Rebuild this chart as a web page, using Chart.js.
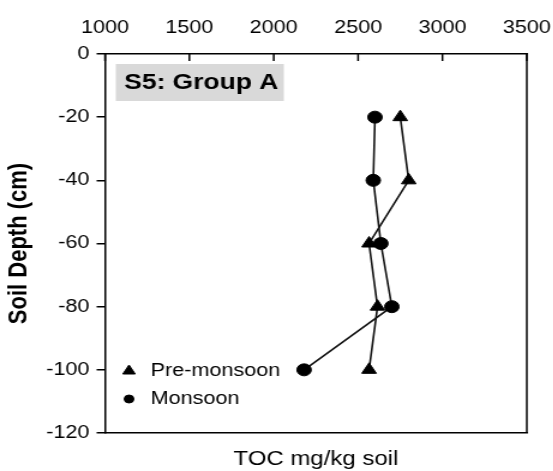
<!DOCTYPE html>
<html>
<head>
<meta charset="utf-8">
<script src="https://cdn.jsdelivr.net/npm/chart.js@4/dist/chart.umd.min.js"></script>
<style>
  html, body { margin: 0; padding: 0; background: #fff; overflow: hidden; }
  /* the reference is horizontally stretched, so draw narrow and stretch */
  #wrap { width: 461px; height: 471px; transform: scaleX(1.2); transform-origin: 0 0; }
</style>
</head>
<body>
<div id="wrap"><canvas id="chart"></canvas></div>
<script>
// Soil depth (cm) for each sample
const depths = [-20, -40, -60, -80, -100];
// TOC mg/kg soil
const preMonsoon = [2750, 2800, 2565, 2615, 2565];
const monsoon = [2600, 2590, 2635, 2700, 2180];
// axis ranges
const xTicks = [1000, 1500, 2000, 2500, 3000, 3500];
const yTicks = [-120, -100, -80, -60, -40, -20, 0];
const titleText = 'S5: Group A';

const toPoints = vals => vals.map((v, i) => ({ x: v, y: depths[i] }));

// frame, inward top ticks, title box and legend
const decorations = {
    id: 'decorations',
    afterDraw(chart) {
        const { ctx, chartArea: a, scales } = chart;
        ctx.save();
        ctx.strokeStyle = '#000';
        ctx.lineWidth = 1.5;
        // right edge of the frame
        ctx.beginPath();
        ctx.moveTo(a.right, a.top);
        ctx.lineTo(a.right, a.bottom);
        ctx.stroke();
        // ticks on the top axis point into the plot
        scales.x.ticks.forEach(t => {
            const px = scales.x.getPixelForValue(t.value);
            ctx.beginPath();
            ctx.moveTo(px, a.top);
            ctx.lineTo(px, a.top + 7);
            ctx.stroke();
        });

        // label box
        ctx.fillStyle = '#d9d9d9';
        ctx.fillRect(a.left + 9, a.top + 10, 140, 37);
        ctx.fillStyle = '#000';
        ctx.font = 'bold 22px "Liberation Sans", Arial, sans-serif';
        ctx.textBaseline = 'middle';
        ctx.textAlign = 'left';
        ctx.fillText(titleText, a.left + 16, a.top + 29);

        // legend inside the plot
        const rows = [a.bottom - 62, a.bottom - 34];
        ctx.font = '18px "Liberation Sans", Arial, sans-serif';
        chart.data.datasets.forEach((ds, i) => {
            const y = rows[i];
            ctx.fillStyle = '#000';
            ctx.strokeStyle = '#000';
            ctx.lineWidth = 1;
            Chart.helpers.drawPoint(ctx, {
                pointStyle: ds.pointStyle,
                radius: ds.pointStyle === 'triangle' ? 6 : 4,
                borderWidth: 1,
                rotation: 0
            }, a.left + 20, y);
            ctx.fillText(ds.label, a.left + 38, y);
        });
        ctx.restore();
    }
};

const black = '#000';
const tickFont = { family: '"Liberation Sans", Arial, sans-serif', size: 18 };
// keep the plot edges fixed, ignoring label overhang
const noOverhang = s => { s.paddingLeft = 0; s.paddingRight = 0; };

new Chart(document.getElementById('chart'), {
    type: 'scatter',
    data: {
        datasets: [
            {
                label: 'Pre-monsoon',
                data: toPoints(preMonsoon),
                showLine: true,
                borderColor: '#111',
                backgroundColor: black,
                borderWidth: 1.6,
                pointStyle: 'triangle',
                pointRadius: 7,
                pointBorderWidth: 1,
                pointBorderColor: black,
                pointBackgroundColor: black
            },
            {
                label: 'Monsoon',
                data: toPoints(monsoon),
                showLine: true,
                borderColor: '#111',
                backgroundColor: black,
                borderWidth: 1.6,
                pointStyle: 'circle',
                pointRadius: 6,
                pointBorderWidth: 1,
                pointBorderColor: black,
                pointBackgroundColor: black
            }
        ]
    },
    options: {
        responsive: true,
        maintainAspectRatio: false,
        animation: false,
        layout: { padding: { left: 0, right: 22, top: 0, bottom: 0 } },
        plugins: {
            legend: { display: false },
            tooltip: { enabled: false }
        },
        scales: {
            x: {
                type: 'linear',
                position: 'top',
                min: xTicks[0],
                max: xTicks[xTicks.length - 1],
                afterBuildTicks: s => { s.ticks = xTicks.map(v => ({ value: v })); },
                ticks: {
                    color: '#000',
                    font: tickFont,
                    padding: 7,
                    maxRotation: 0,
                    callback: v => String(v)
                },
                grid: { display: false },
                border: { display: true, color: black, width: 1.5 },
                afterFit: s => { s.height = 54; noOverhang(s); }
            },
            x2: {
                type: 'linear',
                position: 'bottom',
                min: xTicks[0],
                max: xTicks[xTicks.length - 1],
                ticks: { display: false },
                grid: { display: false },
                border: { display: true, color: black, width: 1.5 },
                title: {
                    display: true,
                    text: 'TOC mg/kg soil',
                    color: '#000',
                    font: { family: '"Liberation Sans", Arial, sans-serif', size: 20 },
                    padding: { top: 0, bottom: 0 }
                },
                afterFit: s => { s.height = 38; noOverhang(s); }
            },
            y: {
                type: 'linear',
                position: 'left',
                min: yTicks[0],
                max: yTicks[yTicks.length - 1],
                afterBuildTicks: s => { s.ticks = yTicks.map(v => ({ value: v })); },
                ticks: {
                    color: '#000',
                    font: tickFont,
                    padding: 6,
                    callback: v => String(v)
                },
                grid: {
                    drawOnChartArea: false,
                    drawTicks: true,
                    tickLength: 7,
                    color: black,
                    lineWidth: 1.5
                },
                border: { display: true, color: black, width: 1.5 },
                title: {
                    display: true,
                    text: 'Soil Depth (cm)',
                    color: '#000',
                    font: { family: '"Liberation Sans", Arial, sans-serif', size: 22, weight: 'bold' },
                    padding: { top: 3, bottom: 0 }
                },
                afterFit: s => { s.width = 87.5; }
            }
        }
    },
    plugins: [decorations]
});
</script>
</body>
</html>
